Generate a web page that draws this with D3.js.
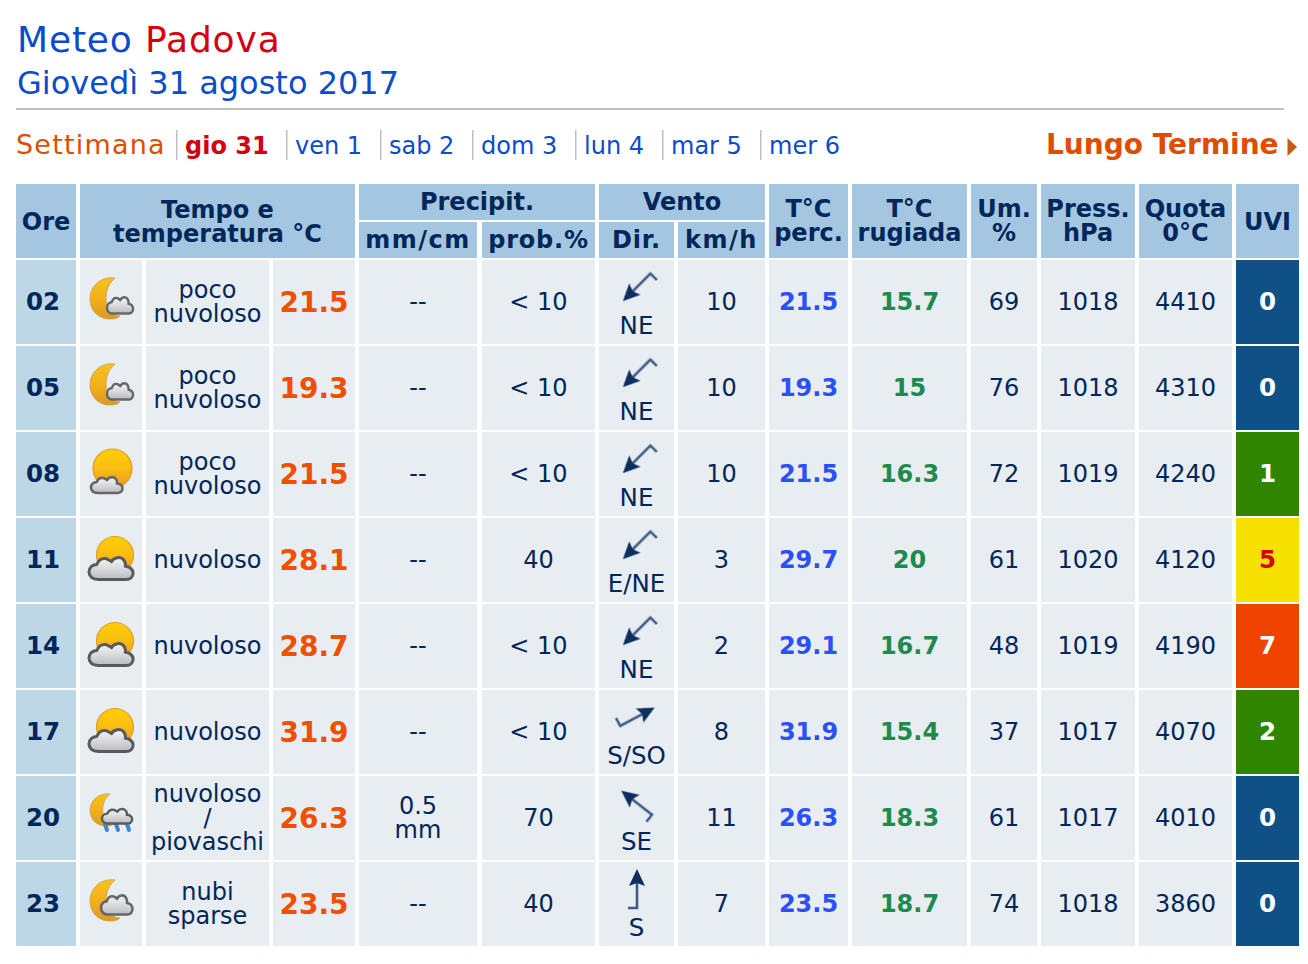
<!DOCTYPE html>
<html>
<head>
<meta charset="utf-8">
<title>Meteo Padova</title>
<script src="https://cdn.jsdelivr.net/npm/d3@7"></script>
<style>
html, body { margin: 0; padding: 0; background: #fff; }
svg { display: block; }
text { font-family: "DejaVu Sans", Verdana, sans-serif; }
</style>
</head>
<body>
<svg id="chart" width="1308" height="964"></svg>
<script>
// Data
var hours = ['02', '05', '08', '11', '14', '17', '20', '23'];
var icons = ['moonSmall', 'moonSmall', 'sunSmall', 'sunBig', 'sunBig', 'sunBig', 'moonRain', 'moonBig'];
var skies = [['poco', 'nuvoloso'], ['poco', 'nuvoloso'], ['poco', 'nuvoloso'], ['nuvoloso'], ['nuvoloso'], ['nuvoloso'], ['nuvoloso', '/', 'piovaschi'], ['nubi', 'sparse']];
var temps = ['21.5', '19.3', '21.5', '28.1', '28.7', '31.9', '26.3', '23.5'];
var rain = [['--'], ['--'], ['--'], ['--'], ['--'], ['--'], ['0.5', 'mm'], ['--']];
var prob = ['< 10', '< 10', '< 10', '40', '< 10', '< 10', '70', '40'];
var windDir = ['NE', 'NE', 'NE', 'E/NE', 'NE', 'S/SO', 'SE', 'S'];
var windAngle = [225, 225, 225, 225, 225, 62, 308, 0];
var windKmh = ['10', '10', '10', '3', '2', '8', '11', '7'];
var perceived = ['21.5', '19.3', '21.5', '29.7', '29.1', '31.9', '26.3', '23.5'];
var dewPoint = ['15.7', '15', '16.3', '20', '16.7', '15.4', '18.3', '18.7'];
var humidity = ['69', '76', '72', '61', '48', '37', '61', '74'];
var pressure = ['1018', '1018', '1019', '1020', '1019', '1017', '1017', '1018'];
var freezing = ['4410', '4310', '4240', '4120', '4190', '4070', '4010', '3860'];
var uvi = [0, 0, 1, 5, 7, 2, 0, 0];
var navDays = ['gio 31', 'ven 1', 'sab 2', 'dom 3', 'lun 4', 'mar 5', 'mer 6'];

// Column layout
var colKeys = ['ore', 'icon', 'sky', 'temp', 'mm', 'prob', 'dir', 'kmh', 'perc', 'dew', 'um', 'press', 'quota', 'uvi'];
var colLeft = [16, 80, 146, 273, 359, 482, 599, 678, 769, 852, 971, 1041, 1139, 1236];
var colRight = [76, 142, 269, 355, 477, 595, 674, 765, 848, 967, 1037, 1135, 1232, 1299];
var navX = [185, 295, 389, 481, 584, 671, 769];
var navSepX = [176, 286, 380, 472, 575, 662, 760];

var x0 = d3.scaleOrdinal(colKeys, colLeft);
var x1 = d3.scaleOrdinal(colKeys, colRight);
var xMid = function(k) { return (x0(k) + x1(k)) / 2; };
var y = d3.scaleBand(hours, [260, 946]).paddingInner(2 / 86).paddingOuter(0).align(0);

var NAVY = '#00275a', HEAD = '#a5c6e0', ORE = '#bed7e6', CELL = '#e8edf2';
var uviColor = d3.scaleThreshold([1, 3, 5, 6], ['#0f5187', '#2f8400', '#2f8400', '#f5e000', '#f04300']);

var svg = d3.select('#chart');
var defs = svg.append('defs');

function gradient(id, stops) {
    var g = defs.append('linearGradient').attr('id', id).attr('x1', 0).attr('y1', 0).attr('x2', 0).attr('y2', 1);
    stops.forEach(function(s, i) {
        g.append('stop').attr('offset', i / (stops.length - 1)).attr('stop-color', s);
    });
}
gradient('gSun', ['#ffce00', '#f9bd14', '#e8981f']);
gradient('gMoon', ['#f7c21a', '#f2b01f', '#dc9a20']);
gradient('gCloud', ['#f4f5f6', '#d8dadc', '#b9bcbf']);
defs.append('filter').attr('id', 'soft').attr('x', '-20%').attr('y', '-20%').attr('width', '140%').attr('height', '140%')
    .append('feGaussianBlur').attr('stdDeviation', 0.55);

function title(x, yy, str, size, fill, weight, anchor) {
    return svg.append('text').attr('x', x).attr('y', yy).attr('font-size', size)
        .attr('fill', fill).attr('font-weight', weight || 'normal')
        .attr('text-anchor', anchor || 'start').text(str);
}

// Heading
var h1 = svg.append('text').attr('x', 17).attr('y', 52).attr('font-size', 36).attr('letter-spacing', 0.85);
h1.append('tspan').attr('fill', '#0a4ccb').text('Meteo ');
h1.append('tspan').attr('fill', '#d40010').text('Padova');
title(17, 94, 'Giovedì 31 agosto 2017', 32, '#0a4ccb');
svg.append('rect').attr('x', 16).attr('y', 108).attr('width', 1268).attr('height', 2).attr('fill', '#bcc0c4');

// Navigation row
title(16, 154, 'Settimana', 27, '#e04c00').attr('letter-spacing', 1.2);
svg.selectAll('rect.sep').data(navSepX).join('rect').attr('class', 'sep')
    .attr('x', function(d) { return d; }).attr('y', 130).attr('width', 1.5).attr('height', 30).attr('fill', '#bcc0c4');
navDays.forEach(function(d, i) {
    title(navX[i], 154, d, 24, i === 0 ? '#d40010' : '#0a4ccb', i === 0 ? 'bold' : 'normal');
});
title(1046, 154, 'Lungo Termine', 28, '#e04c00', 'bold');
svg.append('path').attr('fill', '#c85a08').attr('filter', 'url(#soft)')
    .attr('d', d3.line()([[1287.5, 138], [1297, 147], [1287.5, 156]]) + 'Z');

// Header blocks
function headBox(a, b, top, bottom) {
    svg.append('rect').attr('x', x0(a)).attr('y', top).attr('width', x1(b) - x0(a)).attr('height', bottom - top).attr('fill', HEAD);
}
function headText(cx, lines, firstY, spacing) {
    lines.forEach(function(l, i) {
        title(cx, firstY + i * 24, l, 24, NAVY, 'bold', 'middle').attr('letter-spacing', spacing || 0);
    });
}
headBox('ore', 'ore', 184, 258); headText(xMid('ore'), ['Ore'], 230);
headBox('icon', 'temp', 184, 258); headText((x0('icon') + x1('temp')) / 2, ['Tempo e', 'temperatura °C'], 218);
headBox('mm', 'prob', 184, 220); headText((x0('mm') + x1('prob')) / 2, ['Precipit.'], 210);
headBox('mm', 'mm', 222, 258); headText(xMid('mm'), ['mm/cm'], 248, 1.5);
headBox('prob', 'prob', 222, 258); headText(xMid('prob'), ['prob.%'], 248, 0.8);
headBox('dir', 'kmh', 184, 220); headText((x0('dir') + x1('kmh')) / 2, ['Vento'], 210);
headBox('dir', 'dir', 222, 258); headText(xMid('dir'), ['Dir.'], 248, 0.8);
headBox('kmh', 'kmh', 222, 258); headText(xMid('kmh'), ['km/h'], 248, 1.5);
headBox('perc', 'perc', 184, 258); headText(xMid('perc'), ['T°C', 'perc.'], 217);
headBox('dew', 'dew', 184, 258); headText(xMid('dew'), ['T°C', 'rugiada'], 217);
headBox('um', 'um', 184, 258); headText(xMid('um'), ['Um.', '%'], 217);
headBox('press', 'press', 184, 258); headText(xMid('press'), ['Press.', 'hPa'], 217);
headBox('quota', 'quota', 184, 258); headText(xMid('quota'), ['Quota', '0°C'], 217);
headBox('uvi', 'uvi', 184, 258); headText(xMid('uvi'), ['UVI'], 230);

// Weather icons, origin at the top-left of the icon cell
var moonPath = function(g, s) {
    g.append('path').attr('transform', s)
        .attr('d', 'M25 0C11 -2 0 8 0 21C0 33 9 42 22 41C25 41 28 40 30 38C22 38 16 30 16 21C16 12 19 5 25 0Z')
        .attr('fill', 'url(#gMoon)').attr('stroke', '#c9a050').attr('stroke-width', 0.8);
};
var sunCircle = function(g, cx, cy, r) {
    g.append('circle').attr('cx', cx).attr('cy', cy).attr('r', r)
        .attr('fill', 'url(#gSun)').attr('stroke', '#dc9f2c').attr('stroke-width', 1.2);
};
var cloudPath = function(g, s, dark, sw) {
    g.append('path').attr('transform', s)
        .attr('d', 'M9 25C3 25 0 21 0 17C0 12 4 9 8 9C10 4 14 2 18 3C20 4 22 5 23 6C25 1 33 0 36 5C37 7 38 9 37 11C41 11 45 14 45 18C45 22 42 25 38 25Z')
        .attr('fill', 'url(#gCloud)').attr('stroke', dark).attr('stroke-width', sw)
        .attr('stroke-linejoin', 'round').attr('vector-effect', 'non-scaling-stroke');
};
var iconDraw = {
    moonSmall: function(g) { moonPath(g, 'translate(10,18)'); cloudPath(g, 'translate(27,36) scale(0.58,0.7)', '#666', 2.4); },
    moonBig: function(g) { moonPath(g, 'translate(10,18)'); cloudPath(g, 'translate(21,32) scale(0.7,0.82)', '#666', 2.6); },
    moonRain: function(g) {
        moonPath(g, 'translate(10,18) scale(0.8,0.78)');
        [[25, 48], [36, 48], [47, 48]].forEach(function(p) {
            g.append('path').attr('d', d3.line()([[p[0], p[1]], [p[0] + 2, p[1] + 6]]))
                .attr('stroke', '#3f87c9').attr('stroke-width', 4).attr('stroke-linecap', 'round');
        });
        cloudPath(g, 'translate(22,32) scale(0.67,0.62)', '#5c5c5c', 2.4);
    },
    sunSmall: function(g) { sunCircle(g, 32.5, 36.5, 19.5); cloudPath(g, 'translate(11,44) scale(0.7,0.68)', '#666', 2.6); },
    sunBig: function(g) { sunCircle(g, 35, 37, 18.5); cloudPath(g, 'translate(9,38) scale(0.98,0.94)', '#5a5a5a', 3); }
};
// Wind arrow pointing up with the hooked tail on the left, rotated about its centre
function windArrow(g, angle) {
    g.attr('transform', g.attr('transform') + ' rotate(' + angle + ')');
    g.append('path').attr('d', d3.line()([[-9, 19], [0, 19], [0, -6]]))
        .attr('fill', 'none').attr('stroke', '#3e5a82').attr('stroke-width', 2.6);
    g.append('path').attr('d', d3.line()([[0, -20], [8, -3], [0, -6], [-8, -3]]) + 'Z').attr('fill', '#0b2e5e');
}

function multiline(g, cx, cy, lines, size, leading, fill, weight) {
    var top = cy - (lines.length - 1) * leading / 2;
    lines.forEach(function(l, i) {
        g.append('text').attr('x', cx).attr('y', top + i * leading).attr('text-anchor', 'middle')
            .attr('font-size', size).attr('fill', fill)
            .attr('font-weight', weight || 'normal').text(l);
    });
}

hours.forEach(function(hour, r) {
    var top = y(hour), h = y.bandwidth(), cy = top + h / 2 + 1;
    var row = svg.append('g').attr('class', 'row');
    colKeys.forEach(function(k) {
        var fill = k === 'ore' ? ORE : k === 'uvi' ? uviColor(uvi[r]) : CELL;
        row.append('rect').attr('x', x0(k)).attr('y', top).attr('width', x1(k) - x0(k)).attr('height', h).attr('fill', fill);
    });
    var plain = function(k, v) { multiline(row, xMid(k), cy + 7, v, 24, 24, NAVY); };

    multiline(row, xMid('ore') - 3, cy + 7, [hour], 24.5, 24, NAVY, 'bold');
    var ic = row.append('g').attr('transform', 'translate(' + x0('icon') + ',' + top + ')').attr('filter', 'url(#soft)');
    iconDraw[icons[r]](ic);
    multiline(row, xMid('sky'), cy + 7, skies[r], 24, 24, NAVY);
    multiline(row, xMid('temp'), cy + 9, [temps[r]], 28, 24, '#f04f00', 'bold');
    plain('mm', rain[r]);
    plain('prob', [prob[r]]);
    windArrow(row.append('g').attr('filter', 'url(#soft)').attr('transform', 'translate(637,' + (top + 27) + ')'), windAngle[r]);
    multiline(row, xMid('dir'), top + 74, [windDir[r]], 24.5, 24, NAVY);
    plain('kmh', [windKmh[r]]);
    multiline(row, xMid('perc'), cy + 7, [perceived[r]], 24, 24, '#2b50f5', 'bold');
    multiline(row, xMid('dew'), cy + 7, [dewPoint[r]], 24, 24, '#1e8a4e', 'bold');
    plain('um', [humidity[r]]);
    plain('press', [pressure[r]]);
    plain('quota', [freezing[r]]);
    multiline(row, xMid('uvi'), cy + 7, [String(uvi[r])], 24.5, 24, uvi[r] === 5 ? '#d40010' : '#fff', 'bold');
});
</script>
</body>
</html>
